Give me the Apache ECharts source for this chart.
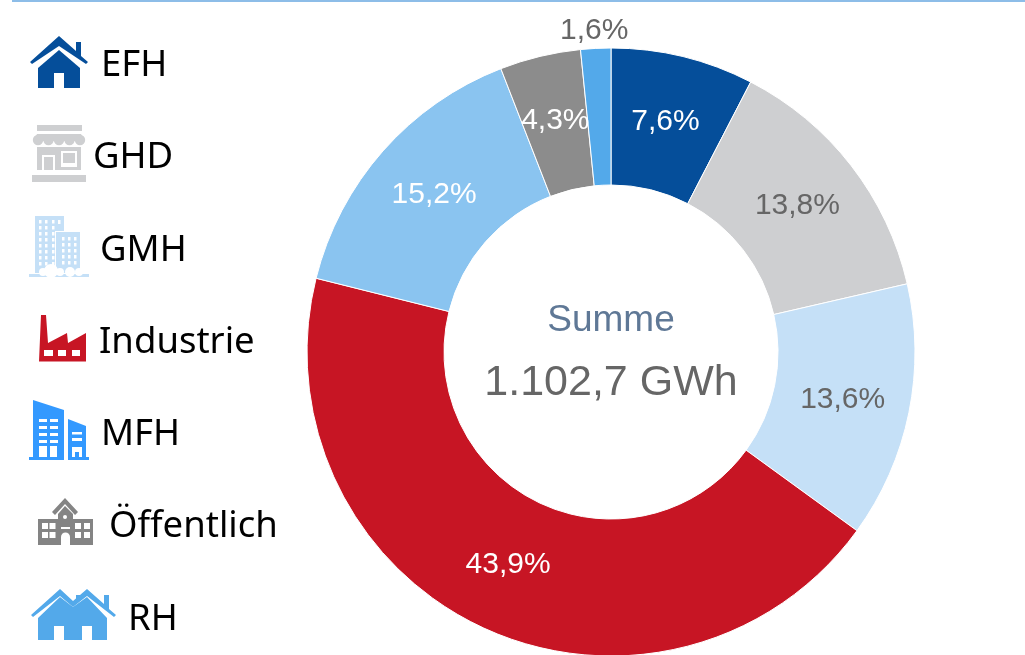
<!DOCTYPE html>
<html lang="de">
<head>
    <meta charset="UTF-8">
    <title>Summe GWh</title>
    <script src="https://cdn.jsdelivr.net/npm/echarts@6/dist/echarts.min.js"></script>
    <style>
        html, body { margin: 0; padding: 0; background: #fff; }
        #main { width: 1025px; height: 655px; }
    </style>
</head>
<body>
    <div id="main"></div>
    <script>
        var categories = ['EFH', 'GHD', 'GMH', 'Industrie', 'MFH', 'Öffentlich', 'RH'];
        var shares = [7.6, 13.8, 13.6, 43.9, 15.2, 4.3, 1.6];
        var sliceColors = ['#054e9a', '#cecfd1', '#c5e0f7', '#c71524', '#8ac4f0', '#8c8c8c', '#53a9ea'];
        var labelColors = ['#fff', '#666', '#666', '#fff', '#fff', '#fff', '#666'];
        var centerTitle = 'Summe';
        var centerTotal = '1.102,7 GWh';

        // small offsets so the percent labels sit where the original has them
        var labelNudge = [[-2, 1], [-2, 0], [-2, 0], [-2, -3], [2, 0], [0, 1], [38, -10]];

        // legend is a pasted picture in the original, so icons + text are placed by hand
        var legendText = { EFH: [101, 66], GHD: [93, 158], GMH: [100, 251], Industrie: [99, 343], MFH: [101, 435], 'Öffentlich': [109, 527], RH: [128, 620] };

        // r = [x1, y1, x2, y2]
        function rects(list, fill) {
            return list.map(function (r) {
                return { type: 'rect', silent: true, shape: { x: r[0], y: r[1], width: r[2] - r[0], height: r[3] - r[1] }, style: { fill: fill } };
            });
        }
        function grid(xs, ys, w, h, fill) {
            var out = [];
            xs.forEach(function (x) {
                ys.forEach(function (y) { out.push([x, y, x + w, y + h]); });
            });
            return rects(out, fill);
        }
        function poly(points, fill) {
            return [{ type: 'polygon', silent: true, shape: { points: points }, style: { fill: fill } }];
        }
        function dots(list, fill) {
            return list.map(function (c) {
                return { type: 'circle', silent: true, shape: { cx: c[0], cy: c[1], r: c[2] }, style: { fill: fill } };
            });
        }

        var white = '#fff', blue = '#054e9a', grey = '#cecfd1', pale = '#c5e0f7', red = '#c71524', mid = '#3399ff', dark = '#848484', sky = '#53a9ea';
        var icons = [].concat(
            // EFH
            poly([[30, 62], [59, 36], [76, 51], [76, 42], [81, 42], [81, 56], [88, 62], [86, 64], [59, 46], [32, 64]], blue),
            poly([[59, 50], [80, 68], [80, 88], [38, 88], [38, 68]], blue),
            rects([[54, 73, 64, 88]], white),
            // GHD
            rects([[37, 125, 82, 131], [32, 175, 86, 182]], grey),
            poly([[37, 134], [81, 134], [85, 141], [33, 141]], grey),
            dots([[38, 140, 5.2], [48.5, 140, 5.2], [59, 140, 5.2], [69.5, 140, 5.2], [80, 140, 5.2]], grey),
            rects([[37, 147, 81, 170]], grey),
            rects([[42, 155, 55, 170], [61, 151, 77, 167]], white),
            rects([[44, 157, 53, 170], [63, 153, 75, 163]], grey),
            // GMH
            rects([[35, 216, 64, 273], [29, 274, 89, 277]], pale),
            grid([39, 45, 52], [220, 226, 232, 238, 244, 250, 256, 262], 2.5, 3.5, white),
            rects([[58, 220, 60.5, 224], [55, 231, 81, 273]], white),
            rects([[56, 232, 80, 273]], pale),
            grid([62, 68, 74], [237, 243, 249, 255, 261], 2.5, 3.5, white),
            dots([[51, 271, 7], [43, 272, 4], [60, 272, 4], [70, 272, 5], [79, 272, 4]], white),
            rects([[40, 273, 83, 274]], white),
            // Industrie
            poly([[41, 315], [46, 315], [48, 343], [67, 333], [68, 343], [86, 333], [86, 361.5], [39, 361.5]], red),
            rects([[44, 350, 53, 356], [58, 350, 66, 356], [72, 350, 80, 356]], white),
            // MFH
            poly([[33, 400], [64, 410], [64, 460], [29, 460], [29, 457], [33, 457]], mid),
            poly([[68, 419], [86, 426], [86, 457], [89, 457], [89, 460], [68, 460]], mid),
            grid([39, 50], [419, 426, 433, 440], 8, 3, white),
            rects([[39, 446, 47, 457], [50, 446, 57, 457], [72, 432, 82, 434.5], [72, 438, 82, 441], [72, 447, 82, 457]], white),
            rects([[75, 452, 79, 457]], mid),
            // Öffentlich
            poly([[65, 498], [78, 512], [75, 515], [65, 504], [55, 515], [52, 512]], dark),
            poly([[65, 506], [73, 514], [73, 519], [93, 519], [93, 545], [38, 545], [38, 519], [58, 519], [58, 514]], dark),
            grid([42, 49.5, 75, 84], [523, 532], 6, 6, white),
            dots([[65, 517, 2], [65.5, 537, 4.5]], white),
            rects([[61, 527, 70, 529], [61, 537, 70, 545]], white),
            // RH
            poly([[38, 640], [38, 618], [60, 597], [73, 607], [87, 597], [107, 618], [107, 640]], sky),
            poly([[31, 615], [60, 589], [73, 601], [87, 589], [104, 604], [104, 595], [109, 595], [109, 609], [116, 615], [114, 617], [87, 596], [73, 607], [60, 596], [33, 617]], sky),
            rects([[76, 595, 82, 600]], sky),
            rects([[54, 626, 64, 640], [82, 626, 92, 640]], white)
        );

        var legendLabels = categories.map(function (name) {
            return {
                type: 'text', silent: true, x: legendText[name][0], y: legendText[name][1],
                style: { text: name, fill: '#000', font: '36.5px "Noto Sans"', textVerticalAlign: 'middle' }
            };
        });

        var topLine = {
            type: 'rect', silent: true, shape: { x: 12, y: 0, width: 1013, height: 2 },
            style: { fill: '#8dbde8' }
        };

        var chart = echarts.init(document.getElementById('main'));
        chart.setOption({
            animation: false,
            title: [
                {
                    text: centerTitle, left: 611, top: 302, textAlign: 'center', padding: 0,
                    textStyle: { color: '#5f7896', fontSize: 37, fontWeight: 'normal', fontFamily: 'Liberation Sans' }
                },
                {
                    text: centerTotal, left: 611, top: 362, textAlign: 'center', padding: 0,
                    textStyle: { color: '#666', fontSize: 43, fontWeight: 'normal', fontFamily: 'Liberation Sans' }
                }
            ],
            series: [{
                type: 'pie',
                center: [611, 352],
                radius: [167, 304],
                startAngle: 90,
                clockwise: true,
                avoidLabelOverlap: false,
                silent: true,
                itemStyle: { borderColor: '#fff', borderWidth: 1 },
                labelLine: { show: false, length: 8, length2: 0 },
                label: {
                    position: 'inside',
                    fontSize: 30,
                    fontFamily: 'Liberation Sans',
                    formatter: function (p) { return p.value.toFixed(1).replace('.', ',') + '%'; }
                },
                labelLayout: function (p) {
                    return { dx: labelNudge[p.dataIndex][0], dy: labelNudge[p.dataIndex][1] };
                },
                data: categories.map(function (name, i) {
                    return {
                        name: name,
                        value: shares[i],
                        itemStyle: { color: sliceColors[i] },
                        // the tiny last slice has its label outside
                        label: { color: labelColors[i], position: i === 6 ? 'outside' : 'inside' }
                    };
                })
            }],
            graphic: [topLine].concat(icons, legendLabels)
        });
    </script>
</body>
</html>
